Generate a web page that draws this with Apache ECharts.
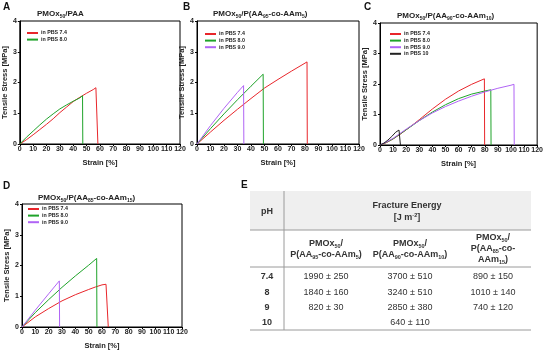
<!DOCTYPE html>
<html>
<head>
<meta charset="utf-8">
<script src="https://cdn.jsdelivr.net/npm/echarts@6/dist/echarts.min.js"></script>
<style>
  html, body { margin: 0; padding: 0; background: #fff; }
  #main { width: 546px; height: 352px; }
</style>
</head>
<body>
<div id="main"></div>
<script>
// stress-strain curves, [strain %, stress MPa]
var aRed = [[0,0],[5,0.14],[10,0.3],[15,0.47],[20,0.64],[25,0.82],[30,1.02],[35,1.2],[40,1.38],[45,1.52],[50,1.65],[55,1.77],[57,1.83],[58.3,1.85],[58.5,0]];
var aGreen = [[0,0],[5,0.22],[10,0.42],[15,0.62],[20,0.81],[25,0.98],[30,1.14],[35,1.27],[40,1.39],[45,1.5],[47,1.57],[47.2,0]];

var bRed = [[0,0],[10,0.39],[20,0.77],[30,1.13],[40,1.48],[50,1.82],[60,2.1],[70,2.37],[80,2.63],[81.5,2.67],[81.7,0]];
var bGreen = [[0,0],[10,0.5],[20,0.98],[30,1.44],[35,1.66],[40,1.88],[49,2.27],[49.2,0]];
var bPurple = [[0,0],[10,0.6],[20,1.16],[30,1.68],[34.5,1.9],[34.7,0]];

var cRed = [[0,0],[5,0.08],[10,0.2],[15,0.34],[20,0.5],[25,0.66],[30,0.83],[40,1.18],[50,1.5],[60,1.77],[70,1.99],[79.7,2.17],[79.9,0]];
var cGreen = [[0,0],[5,0.09],[10,0.2],[20,0.5],[30,0.8],[40,1.08],[50,1.32],[60,1.52],[70,1.67],[80,1.77],[84.6,1.81],[84.8,0]];
var cPurple = [[0,0],[5,0.1],[10,0.22],[20,0.52],[30,0.8],[40,1.05],[50,1.26],[60,1.44],[70,1.6],[80,1.74],[90,1.86],[100,1.96],[102.3,1.99],[102.5,0]];
var cBlack = [[0,0],[3,0.06],[6,0.16],[9,0.28],[12,0.42],[13.5,0.48],[14.5,0.49],[15.5,0.47],[15.6,0]];

var dRed = [[0,0],[10,0.33],[20,0.6],[30,0.85],[40,1.05],[50,1.22],[55,1.3],[60,1.37],[63,1.39],[64.5,1.38],[64.7,0]];
var dGreen = [[0,0],[10,0.47],[20,0.89],[30,1.29],[40,1.66],[50,2.01],[56,2.23],[56.2,0]];
var dPurple = [[0,0],[10,0.55],[20,1.08],[28,1.5],[28.2,0]];

// table E
var phLabels = ['7.4', '8', '9', '10'];
var fe5Mean = [1990, 1840, 820, null];
var fe5Sd = [250, 160, 30, null];
var fe10Mean = [3700, 3240, 2850, 640];
var fe10Sd = [510, 510, 380, 110];
var fe15Mean = [890, 1010, 740, null];
var fe15Sd = [150, 140, 120, null];

var RED = '#e8262b', GREEN = '#1fa32a', PURPLE = '#b064f5', BLACK = '#222';
var FONT = 'Liberation Sans, Arial, sans-serif';

var grids = [
  { left: 19, top: 21, width: 161, height: 123 },
  { left: 197, top: 21, width: 162, height: 123 },
  { left: 380, top: 23, width: 160, height: 122 },
  { left: 22, top: 204, width: 160, height: 123 }
];

function xAx(i) {
  return {
    gridIndex: i, type: 'value', min: 0, max: 120, interval: 10,
    name: 'Strain [%]', nameLocation: 'middle', nameGap: 15,
    nameTextStyle: { fontSize: 7.5, fontWeight: 'bold', color: '#222', fontFamily: FONT },
    axisLine: { lineStyle: { color: '#000', width: 1 } },
    axisTick: { length: 2, lineStyle: { color: '#000' } },
    axisLabel: { fontSize: 7, fontWeight: 'bold', color: '#222', margin: 2, fontFamily: FONT },
    splitLine: { show: false }
  };
}
function yAx(i) {
  return {
    gridIndex: i, type: 'value', min: 0, max: 4, interval: 1,
    name: 'Tensile Stress [MPa]', nameLocation: 'middle', nameGap: 9,
    nameTextStyle: { fontSize: 7.5, fontWeight: 'bold', color: '#222', fontFamily: FONT },
    axisLine: { lineStyle: { color: '#000', width: 1 } },
    axisTick: { length: 2, lineStyle: { color: '#000' } },
    axisLabel: { fontSize: 7, fontWeight: 'bold', color: '#222', margin: 3, fontFamily: FONT },
    splitLine: { show: false }
  };
}
function curve(name, i, data, color) {
  return {
    name: name, type: 'line', xAxisIndex: i, yAxisIndex: i, data: data,
    symbol: 'none', smooth: false, lineStyle: { color: color, width: 1 },
    itemStyle: { color: color }, silent: true, animation: false
  };
}
function legendAt(left, top, names) {
  return {
    left: left, top: top, orient: 'vertical', data: names,
    icon: 'rect', itemWidth: 11, itemHeight: 2, itemGap: 0.6,
    textStyle: { fontSize: 5.3, fontWeight: 'bold', color: '#222', lineHeight: 6, padding: [0, 0, 0, -2], fontFamily: FONT },
    selectedMode: false
  };
}

var titleRich = {
  b: { fontSize: 8, fontWeight: 'bold', color: '#222', lineHeight: 10, fontFamily: FONT },
  s: { fontSize: 5, fontWeight: 'bold', color: '#222', lineHeight: 5, verticalAlign: 'bottom', fontFamily: FONT }
};
function panelTitle(text, left, top) {
  return { text: text, left: left, top: top, padding: 0, textStyle: { rich: titleRich } };
}
function letter(t, left, top) {
  return { text: t, left: left, top: top, padding: 0, textStyle: { fontSize: 10, fontWeight: 'bold', color: '#111', fontFamily: FONT } };
}

var P7 = 'in PBS 7.4', P8 = 'in PBS 8.0', P9 = 'in PBS 9.0', P10 = 'in PBS 10';

// table graphics
var tL = 250, tR = 531, tTop = 191, tHead = 230, tSub = 267, tBot = 330, tDiv = 284;
var rowY = [277, 293, 308, 323];
var colX = [326, 410, 493];
var cellRich = {
  b: { fontSize: 9, fontWeight: 'bold', color: '#222', lineHeight: 11, fontFamily: FONT },
  n: { fontSize: 9, color: '#333', lineHeight: 11, fontFamily: FONT },
  s: { fontSize: 5.5, fontWeight: 'bold', color: '#222', lineHeight: 5.5, verticalAlign: 'bottom', fontFamily: FONT },
  u: { fontSize: 5.5, fontWeight: 'bold', color: '#222', lineHeight: 5.5, verticalAlign: 'top', fontFamily: FONT }
};
function tText(x, y, str) {
  return {
    type: 'text', x: x, y: y, silent: true,
    style: { text: str, align: 'center', verticalAlign: 'middle', rich: cellRich, fill: '#333', fontFamily: FONT }
  };
}
function hLine(y) {
  return { type: 'line', silent: true, shape: { x1: tL, y1: y, x2: tR, y2: y }, style: { stroke: '#9a9a9a', lineWidth: 1 } };
}
var tableEls = [
  { type: 'rect', silent: true, shape: { x: tL, y: tTop, width: tR - tL, height: tHead - tTop }, style: { fill: '#efefef' } },
  hLine(tHead), hLine(tSub), hLine(tBot),
  { type: 'line', silent: true, shape: { x1: tDiv, y1: tTop, x2: tDiv, y2: tBot }, style: { stroke: '#9a9a9a', lineWidth: 1 } },
  tText(267, 212, '{b|pH}'),
  tText(407, 206, '{b|Fracture Energy}'),
  tText(407, 218, '{b|[J m}{u|-2}{b|]}'),
  tText(colX[0], 244, '{b|PMOx}{s|50}{b|/}'),
  tText(colX[0], 255, '{b|P(AA}{s|95}{b|-co-AAm}{s|5}{b|)}'),
  tText(colX[1], 244, '{b|PMOx}{s|50}{b|/}'),
  tText(colX[1], 255, '{b|P(AA}{s|90}{b|-co-AAm}{s|10}{b|)}'),
  tText(colX[2], 238, '{b|PMOx}{s|50}{b|/}'),
  tText(colX[2], 249, '{b|P(AA}{s|85}{b|-co-}'),
  tText(colX[2], 260, '{b|AAm}{s|15}{b|)}')
];
var cols = [[fe5Mean, fe5Sd], [fe10Mean, fe10Sd], [fe15Mean, fe15Sd]];
phLabels.forEach(function (ph, r) {
  tableEls.push(tText(267, rowY[r], '{b|' + ph + '}'));
  cols.forEach(function (c, k) {
    if (c[0][r] != null) tableEls.push(tText(colX[k], rowY[r], '{n|' + c[0][r] + ' \u00b1 ' + c[1][r] + '}'));
  });
});

var chart = echarts.init(document.getElementById('main'), null, { renderer: 'canvas' });
chart.setOption({
  animation: false,
  backgroundColor: '#fff',
  textStyle: { fontFamily: FONT },
  title: [
    letter('A', 3, 2), letter('B', 183, 2), letter('C', 364, 2), letter('D', 3, 181), letter('E', 241, 180),
    panelTitle('{b|PMOx}{s|50}{b|/PAA}', 37, 9),
    panelTitle('{b|PMOx}{s|50}{b|/P(AA}{s|95}{b|-co-AAm}{s|5}{b|)}', 213, 9),
    panelTitle('{b|PMOx}{s|50}{b|/P(AA}{s|90}{b|-co-AAm}{s|10}{b|)}', 397, 11),
    panelTitle('{b|PMOx}{s|50}{b|/P(AA}{s|85}{b|-co-AAm}{s|15}{b|)}', 38, 193)
  ],
  grid: grids.map(function (g) {
    return { left: g.left, top: g.top, width: g.width, height: g.height, show: true, borderColor: '#000', borderWidth: 1, containLabel: false };
  }),
  xAxis: [xAx(0), xAx(1), xAx(2), xAx(3)],
  yAxis: [yAx(0), yAx(1), yAx(2), yAx(3)],
  legend: [
    legendAt(22, 25, [P7, P8]),
    legendAt(200, 26, [P7, P8, P9]),
    legendAt(385, 26, [P7, P8, P9, P10]),
    legendAt(23, 201, [P7, P8, P9])
  ],
  series: [
    curve(P7, 0, aRed, RED), curve(P8, 0, aGreen, GREEN),
    curve(P7, 1, bRed, RED), curve(P8, 1, bGreen, GREEN), curve(P9, 1, bPurple, PURPLE),
    curve(P7, 2, cRed, RED), curve(P8, 2, cGreen, GREEN), curve(P9, 2, cPurple, PURPLE), curve(P10, 2, cBlack, BLACK),
    curve(P7, 3, dRed, RED), curve(P8, 3, dGreen, GREEN), curve(P9, 3, dPurple, PURPLE)
  ],
  graphic: tableEls
});
</script>
</body>
</html>
